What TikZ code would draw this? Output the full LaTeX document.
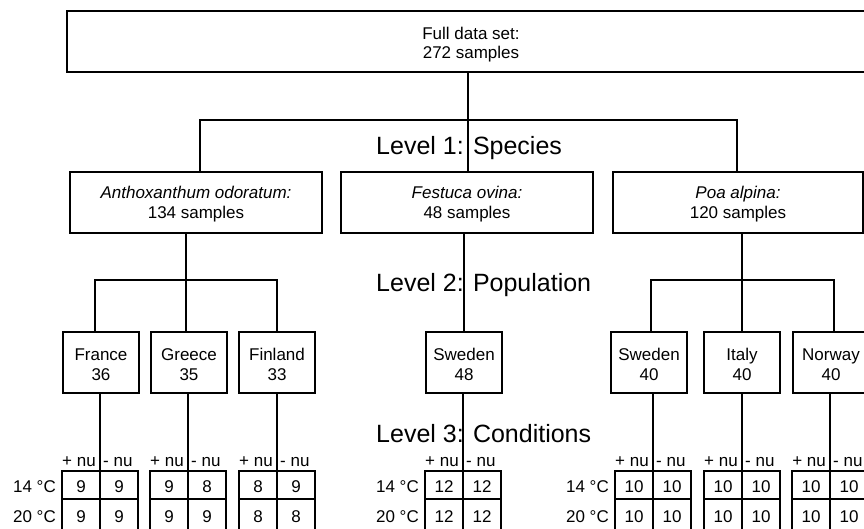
\documentclass[tikz,border=0pt]{standalone}
\usepackage{fontspec}
\setmainfont{Liberation Sans}
\newcommand{\twol}[4]{\rule{0pt}{#3}#1\\#2\rule[-#4]{0pt}{#4}}
\tikzset{
  box/.style={draw, line width=2bp, inner sep=0pt, align=center,
              font=\fontsize{17bp}{19.5bp}\selectfont},
  conn/.style={line width=2bp},
  lvl/.style={font=\fontsize{25bp}{28bp}\selectfont, inner sep=0pt, anchor=base west},
  small/.style={font=\fontsize{17bp}{19bp}\selectfont, inner sep=0pt},
  gridbox/.style={draw, line width=2bp, minimum width=76bp, minimum height=70bp,
                  anchor=north, inner sep=0pt},
}
\begin{document}
\begin{tikzpicture}[x=1bp,y=-1bp]
\useasboundingbox (0,0) rectangle (864,529);
\fill[white] (0,0) rectangle (864,529);
\clip (0,0) rectangle (864,529);

% top
\node[box, minimum width=808bp, minimum height=61bp] (top) at (471,41.5)
  {\twol{Full data set:}{272 samples}{19bp}{4bp}};

% level labels
\node[lvl] (l1) at (376,155) {Level 1: Species};
\node[lvl] (l2) at (376,292) {Level 2: Population};
\node[lvl] (l3) at (376,442) {Level 3: Conditions};

% species
\node[box, minimum width=252bp, minimum height=61bp] (antho) at (196,202.5)
  {\twol{\textit{Anthoxanthum odoratum:}}{134 samples}{16bp}{4bp}};
\node[box, minimum width=252bp, minimum height=61bp] (fest) at (467,202.5)
  {\twol{\textit{Festuca ovina:}}{48 samples}{16bp}{4bp}};
\node[box, minimum width=250bp, minimum height=61bp] (poa) at (738,202.5)
  {\twol{\textit{Poa alpina:}}{120 samples}{16bp}{4bp}};

% populations
\foreach \n/\x/\t/\s in {fr/101/France/36, gr/189/Greece/35, fi/277/Finland/33,
                        swf/464/Sweden/48, swp/649/Sweden/40, it/742/Italy/40,
                        no/831/Norway/40}{
  \node[box, minimum width=76bp, minimum height=61bp] (\n) at (\x,362.5)
    {\twol{\t}{\s}{19bp}{3bp}};
}

% level 1 connectors
\coordinate (j1m) at (468,120);
\coordinate (j1l) at (200,120);
\coordinate (j1r) at (737,120);
\draw[conn] (j1m |- top.south) -- (j1m |- fest.north);
\draw[conn] (j1l |- antho.north) -- (j1l) -- (j1r) -- (j1r |- poa.north);

% level 2 connectors
\coordinate (j2a) at (186,280);
\coordinate (j2al) at (95,280);
\coordinate (j2ar) at (277,280);
\draw[conn] (j2a |- antho.south) -- (j2a |- gr.north);
\draw[conn] (j2al |- fr.north) -- (j2al) -- (j2ar) -- (j2ar |- fi.north);
\draw[conn] (swf.north |- fest.south) -- (swf.north);
\coordinate (j2p) at (742,280);
\coordinate (j2pl) at (651,280);
\coordinate (j2pr) at (834,280);
\draw[conn] (j2p |- poa.south) -- (j2p |- it.north);
\draw[conn] (j2pl |- swp.north) -- (j2pl) -- (j2pr) -- (j2pr |- no.north);

% grids
\coordinate (r1) at (0,499);
\coordinate (b1) at (0,492.5);
\coordinate (b2) at (0,522);
\coordinate (bnu) at (0,466);
\foreach \n/\p/\x/\a/\b/\c/\d in {gfr/fr/100/9/9/9/9, ggr/gr/188/9/8/9/9,
    gfi/fi/277/8/9/8/8, gswf/swf/463/12/12/12/12, gswp/swp/653/10/10/10/10,
    git/it/742/10/10/10/10, gno/no/830/10/10/10/10}{
  \node[gridbox] (\n) at (\x,470) {};
  \draw[conn] (\n.west |- r1) -- (\n.east |- r1);
  \draw[conn] (\n.north |- \p.south) -- (\n.south);
  \node[small, anchor=base east, xshift=-4bp] (\n-pl) at (\n.north |- bnu) {+ nu};
  \node[small, anchor=base west, xshift=3bp] (\n-mi) at (\n.north |- bnu) {- nu};
  \node[small, anchor=base, xshift=-19bp] (\n-a) at (\n.north |- b1) {\a};
  \node[small, anchor=base, xshift=19bp] (\n-b) at (\n.north |- b1) {\b};
  \node[small, anchor=base, xshift=-19bp] (\n-c) at (\n.north |- b2) {\c};
  \node[small, anchor=base, xshift=19bp] (\n-d) at (\n.north |- b2) {\d};
}

% temperature labels
\foreach \g in {gfr, gswf, gswp}{
  \node[small, anchor=base east, xshift=-5bp] (\g-t14) at (\g.west |- b1) {14 °C};
  \node[small, anchor=base east, xshift=-5bp] (\g-t20) at (\g.west |- b2) {20 °C};
}
\end{tikzpicture}
\end{document}
